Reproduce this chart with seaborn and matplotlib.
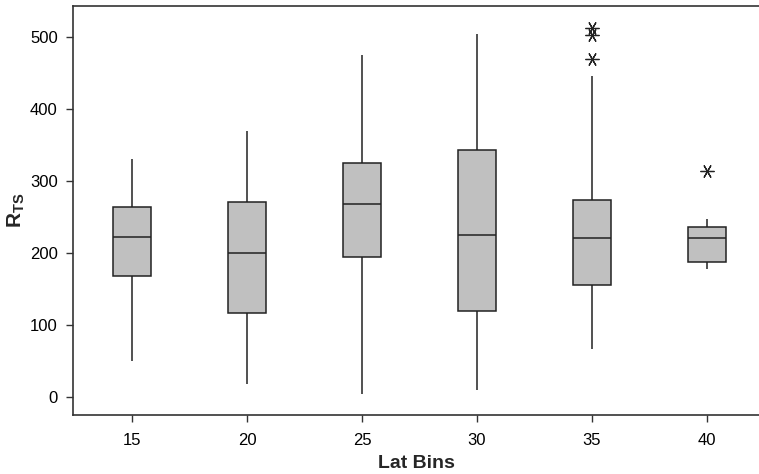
# Boxplot de R_TS por faixa de latitude
import numpy as np
import pandas as pd
import seaborn as sns
import matplotlib.pyplot as plt

# Amostras de R_TS por faixa (extremos, quartis, mediana, outliers)
lat_bins = [15, 20, 25, 30, 35, 40]
rts_15 = [50, 168, 222, 264, 330]
rts_20 = [18, 117, 200, 271, 369]
rts_25 = [4, 194, 268, 325, 475]
rts_30 = [10, 119, 225, 343, 504]
rts_35 = [67, 156, 156, 156, 156, 221, 221, 221, 221,
          273, 273, 273, 273, 446, 469, 503, 512]
rts_40 = [178, 188, 188, 221, 221, 236, 236, 247, 314]

amostras = [rts_15, rts_20, rts_25, rts_30, rts_35, rts_40]
df = pd.DataFrame({
    'Lat Bins': np.repeat(lat_bins, [len(a) for a in amostras]),
    'RTS': np.concatenate(amostras),
})

sns.set_style('ticks')
plt.rcParams['font.family'] = ['Liberation Sans', 'DejaVu Sans']
plt.rcParams['mathtext.fontset'] = 'custom'
plt.rcParams['mathtext.rm'] = 'Liberation Sans:bold'
plt.rcParams['mathtext.it'] = 'Liberation Sans:bold'

fig = plt.figure(figsize=(7.59, 4.74), dpi=100)
ax = fig.add_axes([0.0962, 0.1245, 0.9038, 0.8625])

sns.boxplot(x='Lat Bins', y='RTS', data=df, ax=ax, width=0.33,
            color='#c0c0c0', linewidth=1.1, linecolor='#222222',
            showcaps=False, whis=1.5,
            boxprops={'facecolor': '#c0c0c0', 'edgecolor': '#222222'},
            medianprops={'color': '#222222', 'linewidth': 1.1},
            whiskerprops={'color': '#222222', 'linewidth': 1.1},
            flierprops={'marker': (6, 2, 90), 'markersize': 10,
                        'markeredgecolor': '#222222', 'markeredgewidth': 0.9})

ax.set_xlim(-0.513, 5.452)
ax.set_ylim(-25, 543)
ax.set_yticks([0, 100, 200, 300, 400, 500])
ax.tick_params(axis='both', labelsize=12, length=5, width=1, colors='#333333',
               labelcolor='black')
ax.tick_params(axis='x', pad=8)
ax.tick_params(axis='y', pad=6)
ax.set_xlabel('Lat Bins', fontsize=14, fontweight='bold', labelpad=5)
ax.set_ylabel(r'$\mathrm{R_{TS}}$', fontsize=15, labelpad=2)

for s in ['left', 'bottom', 'top']:
    ax.spines[s].set_color('#333333')
    ax.spines[s].set_linewidth(1.2)
ax.spines['right'].set_visible(False)

plt.savefig('out.png', dpi=100)
